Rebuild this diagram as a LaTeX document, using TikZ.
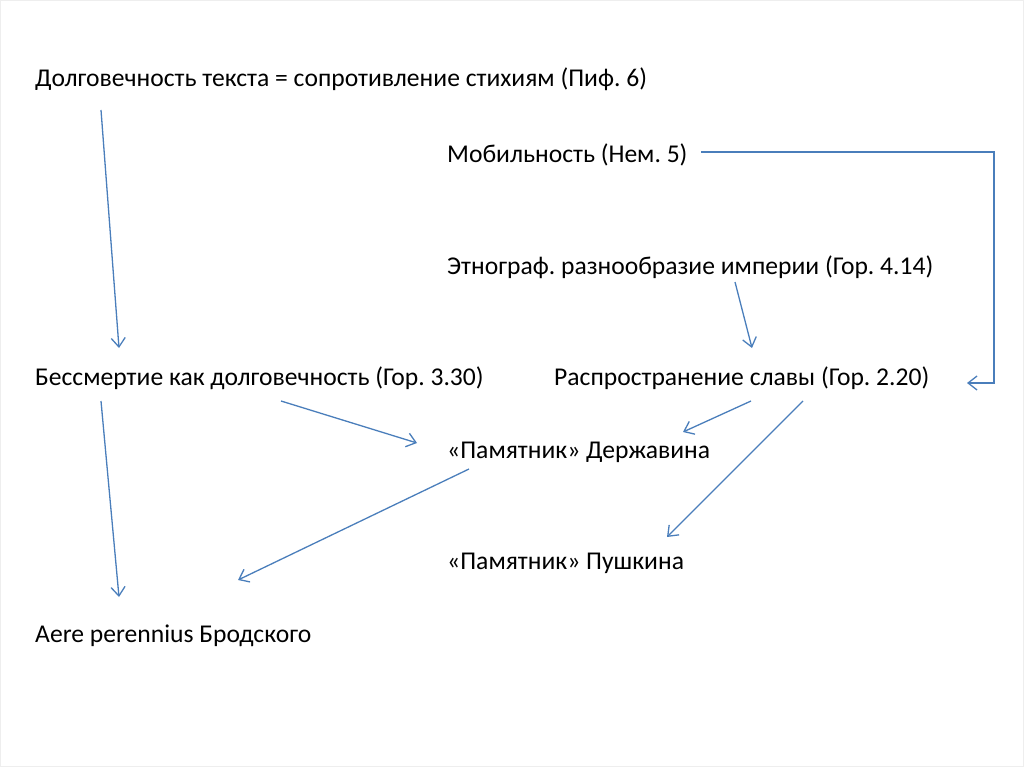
\documentclass[tikz,border=0pt]{standalone}
\usepackage{fontspec}
\setmainfont{Carlito}
\usetikzlibrary{arrows.meta}
\definecolor{linkblue}{HTML}{4A7EBB}
\definecolor{framegray}{HTML}{EEEEEE}
\tikzset{
  lbl/.style={anchor=base west, inner sep=0pt, font=\fontsize{25.6}{30}\selectfont, text=black},
  link/.style={draw=linkblue, line width=1.3pt, -{Straight Barb[length=9pt,width=14pt,line width=1.3pt]}}
}
\frenchspacing
\begin{document}
\begin{tikzpicture}[x=1pt,y=-1pt]
\useasboundingbox (0,0) rectangle (1024,767);
\draw[framegray, line width=1pt] (0.5,0.5) rectangle (1023.5,766.5);
% texts
\node[lbl] (dolg) at (35,87) {Долговечность текста = сопротивление стихиям (Пиф. 6)};
\node[lbl] (mob) at (447,163) {Мобильность (Нем. 5)};
\node[lbl] (etno) at (447,274) {Этнограф. разнообразие империи (Гор. 4.14)};
\node[lbl] (bess) at (35,385) {Бессмертие как долговечность (Гор. 3.30)};
\node[lbl] (rasp) at (554,385) {Распространение славы (Гор. 2.20)};
\node[lbl] (derzh) at (447,458) {«Памятник» Державина};
\node[lbl] (push) at (447,569) {«Памятник» Пушкина};
\node[lbl] (aere) at (35,642) {Aere perennius Бродского};
% connector ends
\coordinate (dolgS) at (101,110);
\coordinate (bessN) at (119,348);
\coordinate (mobE) at (701,152);
\coordinate (rightTop) at (994,152);
\coordinate (rightBot) at (994,383);
\coordinate (raspE) at (967,383);
\coordinate (etnoS) at (735,282);
\coordinate (raspN) at (752,348);
\coordinate (bessSE) at (281,401);
\coordinate (derzhW) at (417,443);
\coordinate (raspSW) at (751,401);
\coordinate (derzhE) at (683,432);
\coordinate (raspS) at (803,401);
\coordinate (pushN) at (667,537);
\coordinate (derzhS) at (469,469);
\coordinate (aereNE) at (238,580);
\coordinate (bessS) at (101,401);
\coordinate (aereN) at (119,597);
% connectors
\draw[link] (dolgS) -- (bessN);
\draw[link] (mobE) -- (rightTop) -- (rightBot) -- (raspE);
\draw[link] (etnoS) -- (raspN);
\draw[link] (bessSE) -- (derzhW);
\draw[link] (raspSW) -- (derzhE);
\draw[link] (raspS) -- (pushN);
\draw[link] (derzhS) -- (aereNE);
\draw[link] (bessS) -- (aereN);
\end{tikzpicture}
\end{document}
